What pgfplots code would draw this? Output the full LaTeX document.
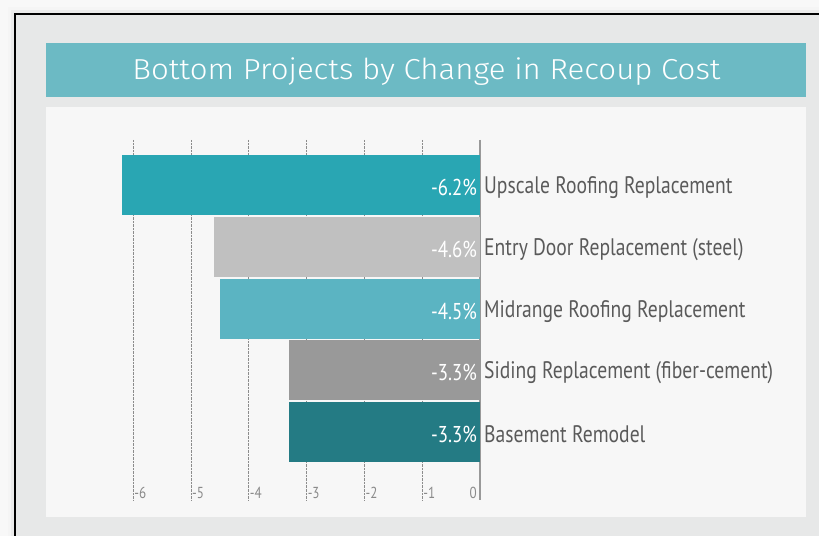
\documentclass[border=0pt]{standalone}
\usepackage{fontspec}
\usepackage{pgfplots}
\usepackage{pgfplotstable}
\pgfplotsset{compat=1.18}
\setmainfont[FakeStretch=0.82]{PT Sans}
\newfontfamily\titlefont[FakeStretch=1.08]{Fira Sans Light}
\definecolor{outerbg}{HTML}{F8F8F8}
\definecolor{panel}{HTML}{E7E8E8}
\definecolor{band}{HTML}{6CBAC4}
\definecolor{plotbg}{HTML}{F7F7F7}
\definecolor{cA}{HTML}{29A6B3}
\definecolor{cB}{HTML}{C0C0C0}
\definecolor{cC}{HTML}{5BB4C2}
\definecolor{cD}{HTML}{999999}
\definecolor{cE}{HTML}{247B84}
\definecolor{labgray}{HTML}{5A5A5A}
\definecolor{tickgray}{HTML}{8A8A8A}
\pgfplotstableread{
pos value label
0 -6.2 -6.2\%
1 -4.6 -4.6\%
2 -4.5 -4.5\%
3 -3.3 -3.3\%
4 -3.3 -3.3\%
}\datatable
\begin{document}
\begin{tikzpicture}[x=1bp,y=1bp]
\useasboundingbox (0,0) rectangle (819,536);
\fill[outerbg] (0,0) rectangle (819,536);
\fill[black!4] (8,0) rectangle (819,529);
\fill[black!8] (11,0) rectangle (819,526);
\fill[panel] (14,0) rectangle (819,523);
\draw[black, line width=1.6bp] (14.8,0) -- (14.8,522.2) -- (819,522.2);
\fill[band] (46,439) rectangle (806,493);
\node[white, font=\titlefont\fontsize{29}{32}\selectfont] at (426.5,464) {Bottom Projects by Change in Recoup Cost};
\fill[plotbg] (46,19) rectangle (806,429);
\begin{axis}[
  at={(121.6bp,36bp)}, anchor=south west,
  scale only axis, width=358.4bp, height=360bp,
  xmin=-6.2, xmax=0, ymin=-0.73, ymax=5.1, y dir=reverse,
  axis line style={draw=none}, major tick length=0pt,
  xtick={-6,-5,-4,-3,-2,-1}, xticklabels={-6,-5,-4,-3,-2,-1},
  xmajorgrids, grid style={densely dotted, black!45, line width=0.8bp},
  xticklabel style={anchor=south west, inner sep=1bp, text=tickgray, font=\fontsize{16}{16}\selectfont},
  extra x ticks={0}, extra x tick labels={0},
  extra x tick style={grid style={solid, black!40, line width=1.4bp}, xticklabel style={anchor=south east, xshift=-2bp}},
  ytick={0,1,2,3,4},
  yticklabels={Upscale Roofing Replacement, Entry Door Replacement (steel), Midrange Roofing Replacement, Siding Replacement (fiber-cement), Basement Remodel},
  yticklabel pos=right,
  yticklabel style={anchor=west, inner sep=1bp, xshift=3bp, yshift=-2.5bp, text=labgray, font=\fontsize{24}{24}\selectfont},
  clip=false,
]
\addplot[xbar, bar width=60bp, bar shift=0pt, fill=cA, draw=none] coordinates {(-6.2,0)};
\addplot[xbar, bar width=60bp, bar shift=0pt, fill=cB, draw=none] coordinates {(-4.6,1)};
\addplot[xbar, bar width=60bp, bar shift=0pt, fill=cC, draw=none] coordinates {(-4.5,2)};
\addplot[xbar, bar width=60bp, bar shift=0pt, fill=cD, draw=none] coordinates {(-3.3,3)};
\addplot[xbar, bar width=60bp, bar shift=0pt, fill=cE, draw=none] coordinates {(-3.3,4)};
\addplot[only marks, mark=none, nodes near coords, point meta=explicit symbolic,
  nodes near coords style={anchor=east, inner sep=1bp, xshift=-2bp, yshift=-2.5bp, text=white, font=\fontsize{23}{23}\selectfont}]
  table[x expr=0, y=pos, meta=label] {\datatable};
\end{axis}
\end{tikzpicture}
\end{document}
